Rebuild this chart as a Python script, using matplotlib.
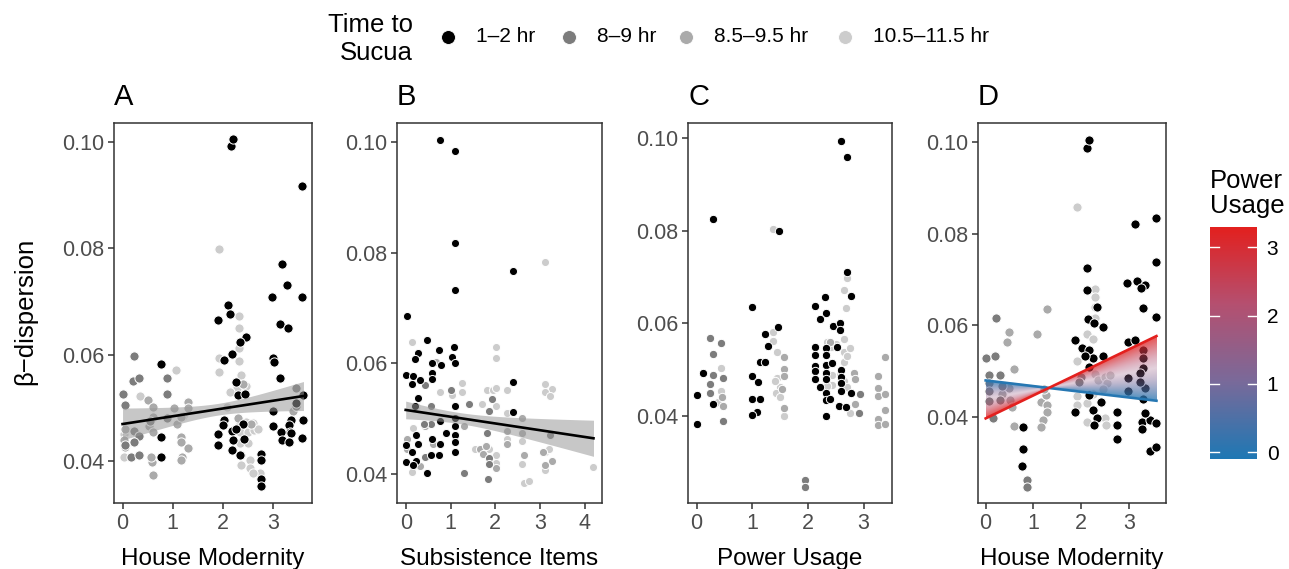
import numpy as np
import matplotlib
matplotlib.use('Agg')
import matplotlib.pyplot as plt
from matplotlib.colors import LinearSegmentedColormap, Normalize
from matplotlib.lines import Line2D

plt.rcParams['font.family'] = ['Liberation Sans', 'DejaVu Sans']

# ---------------- data ----------------
GROUPS = ['1–2 hr', '8–9 hr', '8.5–9.5 hr', '10.5–11.5 hr']
GROUP_COLORS = ['#000000', '#7C7C7C', '#AAAAAA', '#CCCCCC']

# Panel A: House Modernity vs beta-dispersion
A_g1 = [(2.15,0.0993),(2.19,0.1006),(3.57,0.0918),(3.17,0.0771),(3.28,0.0731),(2.97,0.0709),(3.57,0.0709),
        (3.13,0.0658),(3.30,0.0650),(1.89,0.0665),(2.09,0.0693),(2.13,0.0677),(2.45,0.0633),(2.34,0.0623),
        (2.18,0.0602),(2.01,0.0590),(3.00,0.0593),(3.01,0.0586),(3.13,0.0556),(0.77,0.0582),(2.25,0.0549),
        (2.29,0.0524),(2.44,0.0526),(3.60,0.0524),(3.00,0.0494),(2.01,0.0477),(2.00,0.0468),(1.89,0.0451),
        (2.18,0.0456),(3.36,0.0478),(3.60,0.0478),(2.99,0.0466),(3.31,0.0468),(3.33,0.0455),(3.16,0.0455),
        (3.36,0.0453),(3.17,0.0439),(3.32,0.0436),(3.58,0.0443),(2.42,0.0441),(1.89,0.0430),(2.17,0.0421),
        (2.34,0.0411),(2.75,0.0414),(2.75,0.0402),(2.75,0.0367),(2.75,0.0353),(0.77,0.0446),(0.77,0.0408),
        (2.20,0.0439),(2.40,0.0470),(2.25,0.0460),(3.45,0.0510)]
A_g2 = [(0.23,0.0598),(0.21,0.0551),(0.33,0.0557),(0.01,0.0526),(0.05,0.0505),(0.89,0.0557),(0.89,0.0526),
        (0.23,0.0457),(0.33,0.0447),(0.22,0.0436),(0.17,0.0407),(0.32,0.0412),(0.05,0.0430),(3.46,0.0503),
        (3.46,0.0537),(0.55,0.0475),(0.89,0.0480)]
A_g3 = [(0.50,0.0514),(0.61,0.0502),(0.52,0.0466),(0.61,0.0482),(0.60,0.0455),(0.05,0.0461),(0.05,0.0427),
        (0.59,0.0399),(0.60,0.0374),(0.56,0.0408),(1.30,0.0511),(1.30,0.0499),(1.03,0.0499),(1.09,0.0470),
        (1.17,0.0482),(1.17,0.0446),(1.17,0.0435),(1.30,0.0424),(1.19,0.0408),(1.17,0.0402),(0.02,0.0440),
        (2.40,0.0545),(2.30,0.0480),(3.40,0.0495),(2.55,0.0470)]
A_g4 = [(1.92,0.0799),(2.32,0.0672),(2.32,0.0650),(2.32,0.0612),(2.32,0.0589),(1.92,0.0593),(1.92,0.0568),
        (1.07,0.0571),(0.34,0.0523),(2.36,0.0562),(2.46,0.0541),(2.28,0.0537),(2.13,0.0530),(2.07,0.0502),
        (2.33,0.0474),(2.46,0.0474),(2.60,0.0472),(2.33,0.0455),(2.50,0.0455),(2.62,0.0458),(2.33,0.0433),
        (2.50,0.0433),(2.36,0.0411),(2.54,0.0402),(2.70,0.0460),(2.54,0.0386),(2.73,0.0377),(2.36,0.0392),
        (2.60,0.0377),(0.03,0.0408),(0.03,0.0450),(1.20,0.0485)]
A_fit = dict(intercept=0.04696, slope=0.001464, x_max=3.6, se_min=0.0011, se_x=1.9, se_c=2.16e-6)

# Panel B: Subsistence Items
B_g1 = [(0.77,0.1004),(1.09,0.0984),(1.09,0.0817),(1.09,0.0733),(2.40,0.0766),(0.02,0.0686),(0.47,0.0642),
        (0.75,0.0624),(0.27,0.0618),(0.21,0.0607),(1.08,0.0629),(1.03,0.0612),(1.09,0.0600),(0.78,0.0596),
        (0.58,0.0600),(0.00,0.0579),(0.16,0.0577),(0.14,0.0563),(0.31,0.0569),(0.58,0.0582),(0.58,0.0571),
        (2.39,0.0566),(0.27,0.0537),(0.21,0.0522),(1.09,0.0522),(1.09,0.0501),(2.39,0.0512),(0.77,0.0496),
        (1.09,0.0486),(1.09,0.0471),(0.90,0.0474),(0.23,0.0471),(1.09,0.0458),(0.01,0.0452),(0.28,0.0455),
        (0.77,0.0454),(0.58,0.0464),(0.14,0.0440),(0.75,0.0434),(1.09,0.0439),(0.01,0.0421),(0.22,0.0424),
        (0.47,0.0402),(0.57,0.0434),(0.16,0.0416)]
B_g2 = [(0.43,0.0561),(1.01,0.0552),(1.41,0.0527),(0.22,0.0523),(0.57,0.0523),(1.92,0.0535),(1.85,0.0513),
        (1.81,0.0474),(1.85,0.0428),(1.85,0.0418),(1.83,0.0391),(1.29,0.0401),(3.21,0.0471),(0.42,0.0431),
        (0.57,0.0490),(0.40,0.0490)]
B_g3 = [(0.67,0.0603),(0.04,0.0463),(0.43,0.0487),(1.29,0.0487),(1.66,0.0446),(1.73,0.0437),(2.25,0.0477),
        (2.59,0.0501),(2.59,0.0474),(2.63,0.0434),(2.25,0.0455),(3.07,0.0440),(3.26,0.0424),(3.11,0.0416),
        (2.02,0.0410),(0.33,0.0414),(0.04,0.0445),(1.80,0.0450),(0.60,0.0455)]
B_g4 = [(0.15,0.0639),(2.02,0.0629),(2.02,0.0610),(3.11,0.0783),(3.11,0.0563),(3.26,0.0553),(3.11,0.0548),
        (3.21,0.0540),(1.25,0.0565),(1.25,0.0549),(0.77,0.0549),(1.82,0.0551),(1.94,0.0552),(2.02,0.0556),
        (2.25,0.0552),(2.01,0.0523),(1.71,0.0526),(2.25,0.0510),(0.16,0.0483),(0.13,0.0403),(2.63,0.0383),
        (2.76,0.0388),(2.02,0.0434),(2.59,0.0418),(3.11,0.0407),(1.55,0.0445),(4.19,0.0412),(2.25,0.0464),
        (1.03,0.0543),(3.11,0.0440),(3.20,0.0445),(2.60,0.0460),(1.85,0.0445),(2.02,0.0420)]
B_fit = dict(intercept=0.05157, slope=-0.001222, x_max=4.19, se_min=0.0010, se_x=1.2, se_c=1.08e-6)

# Panel C: Power Usage
C_g1 = [(0.00,0.0445),(0.00,0.0383),(0.29,0.0826),(0.12,0.0492),(0.29,0.0426),(0.99,0.0636),(1.00,0.0487),
        (1.10,0.0474),(0.99,0.0436),(1.13,0.0436),(1.09,0.0409),(0.99,0.0402),(1.23,0.0577),(1.29,0.0552),
        (1.14,0.0517),(1.23,0.0517),(1.47,0.0592),(1.48,0.0800),(2.12,0.0638),(2.31,0.0656),(2.33,0.0623),
        (2.22,0.0610),(2.12,0.0548),(2.12,0.0532),(2.12,0.0508),(2.12,0.0498),(2.12,0.0479),(2.33,0.0546),
        (2.33,0.0532),(2.33,0.0510),(2.33,0.0492),(2.33,0.0479),(2.33,0.0449),(2.33,0.0435),(2.33,0.0400),
        (2.22,0.0463),(2.40,0.0436),(2.45,0.0594),(2.58,0.0600),(2.59,0.0995),(2.71,0.0960),(2.71,0.0712),
        (2.77,0.0660),(2.52,0.0548),(2.58,0.0586),(2.60,0.0499),(2.60,0.0485),(2.60,0.0471),(2.60,0.0453),
        (2.56,0.0422),(2.77,0.0449),(2.68,0.0419),(2.43,0.0514)]
C_g2 = [(0.24,0.0568),(0.30,0.0533),(0.30,0.0489),(0.24,0.0469),(0.24,0.0450),(0.44,0.0557),(0.48,0.0481),
        (0.48,0.0389),(1.95,0.0262),(1.95,0.0247),(2.94,0.0447),(2.92,0.0407)]
C_g3 = [(0.45,0.0442),(0.48,0.0422),(1.57,0.0527),(1.57,0.0501),(1.57,0.0487),(1.53,0.0458),(1.57,0.0417),
        (2.82,0.0492),(2.85,0.0479),(3.26,0.0487),(3.26,0.0460),(3.38,0.0527),(3.26,0.0444),(3.38,0.0447),
        (3.38,0.0412),(3.26,0.0393),(3.26,0.0380),(3.38,0.0382),(2.84,0.0426),(2.40,0.0560)]
C_g4 = [(0.44,0.0503),(0.44,0.0453),(0.38,0.0431),(1.37,0.0581),(1.37,0.0562),(1.37,0.0803),(1.45,0.0539),
        (1.44,0.0481),(1.50,0.0463),(1.43,0.0449),(1.49,0.0440),(1.57,0.0400),(2.69,0.0633),(2.65,0.0672),
        (2.70,0.0699),(2.65,0.0566),(2.65,0.0539),(2.75,0.0546),(2.65,0.0516),(2.35,0.0560),(2.41,0.0548),
        (2.43,0.0489),(2.43,0.0467),(2.58,0.0489),(2.64,0.0475),(2.70,0.0463),(2.75,0.0406),(2.84,0.0479),
        (2.35,0.0465),(2.50,0.0555),(2.70,0.0530),(1.40,0.0475)]

# Panel D: House Modernity with Power Usage interaction
D_g1 = [(2.13,0.0987),(2.17,0.1005),(3.56,0.0835),(3.12,0.0821),(3.56,0.0739),(2.13,0.0724),(2.96,0.0693),
        (3.17,0.0697),(3.35,0.0688),(3.25,0.0681),(2.13,0.0677),(3.29,0.0638),(2.34,0.0640),(3.56,0.0617),
        (2.15,0.0613),(2.28,0.0604),(2.45,0.0595),(1.87,0.0568),(2.01,0.0549),(2.17,0.0546),(2.26,0.0528),
        (2.09,0.0533),(2.45,0.0533),(2.99,0.0564),(3.13,0.0568),(2.17,0.0509),(1.87,0.0409),(2.17,0.0447),
        (2.42,0.0431),(2.26,0.0415),(2.33,0.0396),(2.27,0.0382),(2.75,0.0411),(2.75,0.0381),(2.75,0.0350),
        (0.78,0.0377),(0.78,0.0329),(0.77,0.0293),(3.27,0.0389),(3.27,0.0373),(3.45,0.0393),(3.58,0.0385),
        (3.45,0.0325),(3.58,0.0334),(2.99,0.0455),(3.29,0.0546),(3.29,0.0528),(3.29,0.0506),(3.24,0.0495),
        (3.35,0.0462),(2.99,0.0484),(3.24,0.0476),(3.29,0.0438),(3.35,0.0407)]
D_g2 = [(0.22,0.0615),(0.00,0.0528),(0.20,0.0533),(0.06,0.0491),(0.31,0.0490),(0.06,0.0473),(0.06,0.0455),
        (0.06,0.0433),(0.15,0.0396),(0.34,0.0466),(0.30,0.0436),(0.86,0.0262),(0.86,0.0247),(1.99,0.0487),
        (1.95,0.0476)]
D_g3 = [(0.48,0.0584),(0.45,0.0564),(0.59,0.0503),(0.48,0.0462),(0.51,0.0436),(0.55,0.0422),(0.59,0.0380),
        (1.28,0.0635),(1.07,0.0581),(1.17,0.0431),(1.29,0.0425),(1.29,0.0411),(1.20,0.0393),(1.16,0.0378),
        (1.26,0.0448),(1.22,0.0460),(0.35,0.0450)]
D_g4 = [(1.92,0.0858),(2.29,0.0680),(2.29,0.0662),(2.29,0.0640),(2.29,0.0615),(2.12,0.0581),(2.26,0.0569),
        (1.92,0.0522),(2.29,0.0493),(2.36,0.0480),(2.50,0.0487),(2.55,0.0473),(2.60,0.0490),(1.92,0.0444),
        (1.92,0.0425),(2.13,0.0429),(2.13,0.0389),(2.50,0.0396),(2.53,0.0382),(2.26,0.0450),(2.45,0.0460)]
# interaction model: line at power p = low + (high - low) * p / p_max
D_low = dict(intercept=0.0479, slope=-0.00124)    # power usage = 0
D_high = dict(intercept=0.0396, slope=0.00503)    # power usage = max
D_x_max = 3.58
POWER_MAX = 3.3
POWER_LIM = (-0.1, 3.3)
POWER_TICKS = [0, 1, 2, 3]

PANEL_LABELS = ['A', 'B', 'C', 'D']
X_LABELS = ['House Modernity', 'Subsistence Items', 'Power Usage', 'House Modernity']
Y_LABEL = 'β−dispersion'

# ---------------- layout ----------------
W, H = 1289, 569
fig = plt.figure(figsize=(W / 100, H / 100), dpi=100)


def box(l, t, r, b):
    return [l / W, 1 - b / H, (r - l) / W, (b - t) / H]


cmap = LinearSegmentedColormap.from_list('pw', ['#1F78B4', '#7A6A9A', '#B55070', '#E3201E'])
norm = Normalize(*POWER_LIM)

panels = [
    dict(box=(114, 123, 312, 503), xlim=(-0.17, 3.77), ylim=(0.0321, 0.1036), xt=[0, 1, 2, 3],
         groups=[A_g1, A_g2, A_g3, A_g4], fit=A_fit, s=44),
    dict(box=(397, 123, 602, 503), xlim=(-0.194, 4.38), ylim=(0.03476, 0.1034), xt=[0, 1, 2, 3, 4],
         groups=[B_g1, B_g2, B_g3, B_g4], fit=B_fit, s=34),
    dict(box=(688, 123, 892, 503), xlim=(-0.156, 3.51), ylim=(0.0212, 0.1033), xt=[0, 1, 2, 3],
         groups=[C_g1, C_g2, C_g3, C_g4], fit=None, s=36),
    dict(box=(978, 123, 1166, 503), xlim=(-0.161, 3.78), ylim=(0.0211, 0.1042), xt=[0, 1, 2, 3],
         groups=[D_g1, D_g2, D_g3, D_g4], fit=None, s=44),
]

axes = []
for i, p in enumerate(panels):
    ax = fig.add_axes(box(*p['box']))
    axes.append(ax)
    for gi in [3, 2, 1, 0]:
        pts = np.array(p['groups'][gi])
        ax.scatter(pts[:, 0], pts[:, 1], s=p['s'], c=GROUP_COLORS[gi], edgecolors='white',
                   linewidths=0.7, zorder=2)
    f = p['fit']
    if f is not None:
        xs = np.linspace(0, f['x_max'], 100)
        ys = f['intercept'] + f['slope'] * xs
        hw = np.sqrt(f['se_min'] ** 2 + f['se_c'] * (xs - f['se_x']) ** 2)
        ax.fill_between(xs, ys - hw, ys + hw, color='#999999', alpha=0.55, lw=0, zorder=3)
        ax.plot(xs, ys, color='black', lw=1.9, zorder=4)
    ax.set_xlim(*p['xlim'])
    ax.set_ylim(*p['ylim'])
    ax.set_xticks(p['xt'])
    ax.set_yticks([0.04, 0.06, 0.08, 0.10])
    ax.set_yticklabels(['0.04', '0.06', '0.08', '0.10'])
    for sp in ax.spines.values():
        sp.set_color('#333333')
        sp.set_linewidth(1.1)
    ax.tick_params(colors='#333333', labelcolor='#4D4D4D', labelsize=15.5, length=4.5, width=1.1, pad=2.5)
    l, t, r, b = p['box']
    fig.text(l / W, 1 - 105 / H, PANEL_LABELS[i], fontsize=21, ha='left', va='baseline')
    fig.text((l + r) / 2 / W, 1 - 565 / H, X_LABELS[i], fontsize=17.5, ha='center', va='baseline')

# Panel D: interaction lines and gradient band
axd = axes[3]
nx, ny = 400, 400
ylo, yhi = 0.0385, 0.0590
gx = np.linspace(0, D_x_max, nx)
gy = np.linspace(ylo, yhi, ny)
XX, YY = np.meshgrid(gx, gy)
lo = D_low['intercept'] + D_low['slope'] * XX
hi = D_high['intercept'] + D_high['slope'] * XX
den = hi - lo
den = np.where(np.abs(den) < 1e-9, 1e-9, den)
tt = (YY - lo) / den
inside = (tt >= 0) & (tt <= 1)
rgba = cmap(norm(np.clip(tt, 0, 1) * POWER_MAX))
rgba[..., 3] = np.where(inside, 0.28 + 0.5 * np.abs(2 * np.clip(tt, 0, 1) - 1), 0)
axd.imshow(rgba, extent=[0, D_x_max, ylo, yhi], origin='lower', aspect='auto',
           interpolation='bilinear', zorder=3)
xs = np.linspace(0, D_x_max, 50)
axd.plot(xs, D_low['intercept'] + D_low['slope'] * xs, color=cmap(norm(0)), lw=1.9, zorder=4)
axd.plot(xs, D_high['intercept'] + D_high['slope'] * xs, color=cmap(norm(POWER_MAX)), lw=1.9, zorder=4)
axd.set_xlim(*panels[3]['xlim'])
axd.set_ylim(*panels[3]['ylim'])

# y label
fig.text(25 / W, 1 - 311 / H, Y_LABEL, rotation=90, fontsize=18.5, ha='center', va='center')

# top legend
fig.text(413 / W, 1 - 32 / H, 'Time to', fontsize=18.5, ha='right', va='baseline')
fig.text(413 / W, 1 - 60 / H, 'Sucua', fontsize=18.5, ha='right', va='baseline')
leg_x = [448, 569, 686, 845]
for gi, (lx, lab) in enumerate(zip(leg_x, GROUPS)):
    fig.add_artist(Line2D([lx / W], [1 - 37 / H], marker='o', ms=10, color=GROUP_COLORS[gi],
                          markeredgecolor='white', markeredgewidth=0.6, lw=0, transform=fig.transFigure))
    fig.text((lx + 28) / W, 1 - 37 / H, lab, fontsize=15, ha='left', va='center')

# colour bar
cax = fig.add_axes(box(1210, 227, 1257, 459))
grad = np.linspace(POWER_LIM[0], POWER_LIM[1], 300).reshape(-1, 1)
cax.imshow(grad, cmap=cmap, norm=norm, extent=[0, 1, POWER_LIM[0], POWER_LIM[1]], origin='lower',
           aspect='auto')
for v in POWER_TICKS:
    cax.plot([0, 0.2], [v, v], color='white', lw=1)
    cax.plot([0.8, 1], [v, v], color='white', lw=1)
cax.set_xlim(0, 1)
cax.set_ylim(*POWER_LIM)
cax.set_xticks([])
cax.yaxis.tick_right()
cax.set_yticks(POWER_TICKS)
cax.set_yticklabels([str(v) for v in POWER_TICKS])
cax.tick_params(length=0, labelsize=15, labelcolor='black', pad=7)
for sp in cax.spines.values():
    sp.set_visible(False)
fig.text(1210 / W, 1 - 188 / H, 'Power', fontsize=18.5, ha='left', va='baseline')
fig.text(1210 / W, 1 - 213 / H, 'Usage', fontsize=18.5, ha='left', va='baseline')

fig.savefig('out.png', dpi=100)
